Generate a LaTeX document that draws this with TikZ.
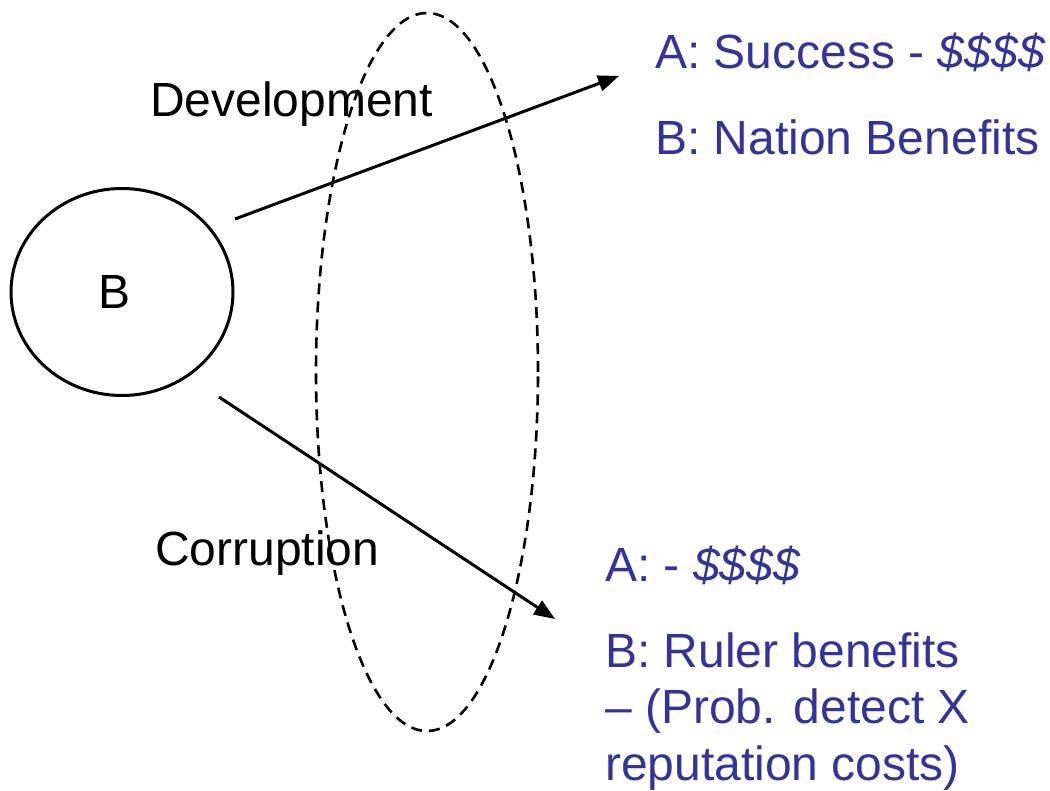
\documentclass[tikz,border=0pt]{standalone}
\usepackage{fontspec}
\setmainfont{Liberation Sans}
\usetikzlibrary{arrows.meta,shapes.geometric}
\definecolor{payoff}{HTML}{333399}
\begin{document}
\begin{tikzpicture}[x=1pt,y=-1pt,
  txt/.style={font=\fontsize{48}{57}\selectfont, inner sep=0pt, anchor=base west},
  payofftext/.style={txt, text=payoff},
  player/.style={draw, ellipse, line width=3pt, minimum width=222pt, minimum height=207pt,
                 font=\fontsize{48}{57}\selectfont},
  infoset/.style={draw, ellipse, dash pattern=on 11pt off 7pt, line width=2.6pt,
                  minimum width=222pt, minimum height=718pt},
  move/.style={line width=3pt, -{Triangle[length=21pt,width=16pt]}}]
\useasboundingbox (0,0) rectangle (1050,791);

% decision node of player B (letter sits slightly left of centre)
\node[player] (B) at (122,292) {\hspace*{-14pt}B};

% branch labels
\node[txt] (dev) at (150,117) {Development};
\node[txt] (cor) at (155,565) {Corruption};

% payoffs
\node[payofftext] (devA) at (655,69) {A: Success - \textit{\$\$\$\$}};
\node[payofftext] (devB) at (655,155) {B: Nation Benefits};
\node[payofftext] (corA) at (605,581) {A: - \textit{\$\$\$\$}};
\node[payofftext] (corB1) at (605,667) {B: Ruler benefits};
\node[payofftext] (corB2) at (605,723) {– (Prob. detect X};
\node[payofftext] (corB3) at (605,780) {reputation costs)};

% branch end points
\coordinate (devStart) at (235,219);
\coordinate (devEnd) at (619,76);
\coordinate (corStart) at (219,397);
\coordinate (corEnd) at (555,619);

\draw[move] (devStart) -- (devEnd);
\draw[move] (corStart) -- (corEnd);

% information set
\node[infoset] (info) at (427,372) {};
\end{tikzpicture}
\end{document}
